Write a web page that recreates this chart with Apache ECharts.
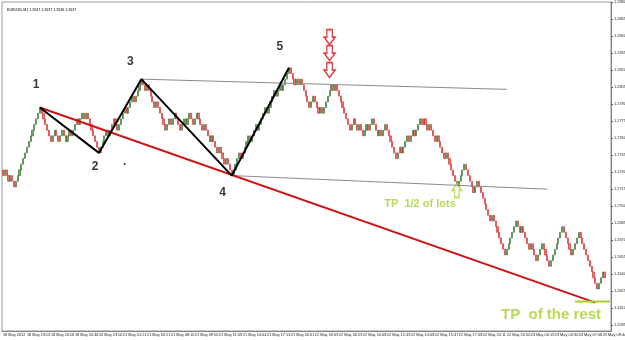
<!DOCTYPE html>
<html>
<head>
<meta charset="utf-8">
<script src="https://cdn.jsdelivr.net/npm/echarts@6/dist/echarts.min.js"></script>
<style>
  html, body { margin: 0; padding: 0; background: #fff; }
  #chart { width: 625px; height: 340px; }
</style>
</head>
<body>
<div id="chart"></div>
<script>
// EURUSD renko chart, swing labels 1-5 and TP notes

const titleText = 'EURUSD,M1 1.2637 1.2637 1.2636 1.2637'

const dateLabels = [
    '18 May 2012', '18 May 19:01', '18 May 20:06', '18 May 20:48', '20 May 23:00',
    '21 May 01:21', '21 May 03:21', '21 May 08:16', '21 May 09:56', '21 May 11:09',
    '21 May 14:04', '21 May 17:13', '21 May 20:01', '22 May 03:09', '22 May 06:29',
    '22 May 10:08', '22 May 12:49', '22 May 14:08', '22 May 15:47', '22 May 17:08',
    '22 May 20:11', '22 May 20:50', '23 May 00:19', '23 May 03:30', '23 May 07:08',
    '23 May 09:44'
]

const priceTicks = [
    1.2595, 1.2610, 1.2625, 1.2640, 1.2655, 1.2670, 1.2685, 1.2700, 1.2715, 1.2730,
    1.2745, 1.2760, 1.2775, 1.2790, 1.2805, 1.2820, 1.2835, 1.2850, 1.2865, 1.2880
]

// renko bricks: price of level 0, brick height, start level, runs of bricks (+ up / - down)
const brickBase = 1.2597
const brickSize = 0.0005
const startLevel = 27
const brickRuns = [
    -1, 1, -2, 1, -2,
    14,
    -6, 2, -2, 2, -2, 2, -1, 3, -1, 2, -1, 1, -7,
    4, -1, 3, -2, 4, -1, 3, -1, 4,
    -2, 1, -4, 1, -5, 2, -1, 2, -3, 2, -1, 2, -2, 2, -3, 1, -3, 1, -3, 1, -3, 1, -3,
    4, -1, 4, -1, 3, -1, 4, -1, 4, -1, 2, -1, 4,
    -3, 1, -1, 1, -5, 2, -3, 1, -1, 5, -1, 1, -8,
    2, -2, 1, -2, 2, -1, 2, -3, 1, -1, 2, -6, 2, -1, 3, -1, 2, -1, 3, -1, 1,
    -2, 1, -3, 1, -4, 1, -6, 4, -5, 2, -7, 1, -7,
    6, -2, 1, -4, 1, -3, 3, -4, 7, -5, 4, -10, 3, -1
]
const barSlots = 330
const lastPrice = 1.2637

// drawn lines, [bar, price]
const waveLine = [[20, 1.2787], [52, 1.2747], [75, 1.2812], [124, 1.2727], [155, 1.2822]]
const trendLine = [[20, 1.2787], [321, 1.2615]]
const upperLine = [[75, 1.2812], [273, 1.2803]]
const lowerLine = [[124, 1.2727], [295, 1.2715]]
const tpLine = [[310, 1.2616], [329, 1.2616]]

const waveNames = ['1', '2', '3', '4', '5', '.']
const wavePoints = [[18, 1.2807], [50, 1.2735], [69, 1.2827], [119, 1.2712], [150, 1.2841], [66, 1.2739]]
const sellArrows = [[177, 1.2849], [177, 1.2835], [177, 1.2820]]
const tpArrow = [[246, 1.2714]]
const tpNotes = ['TP  1/2 of lots', 'TP  of the rest']
const tpNotePoints = [[226, 1.2702], [297, 1.2604]]

// build bricks
let bricks = []
let level = startLevel
brickRuns.forEach(r => {
    let dir = r > 0 ? 1 : -1
    for (let i = 0; i < Math.abs(r); i++) {
        let o = brickBase + level * brickSize
        level += dir
        let c = brickBase + level * brickSize
        bricks.push([o, c, Math.min(o, c), Math.max(o, c)])
    }
})
let cats = []
for (let i = 0; i < barSlots; i++) cats.push(i)

const green = '#a4d22c'

let chart = echarts.init(document.getElementById('chart'))
let option = {
    animation: false,
    backgroundColor: '#fff',
    title: {
        text: titleText,
        left: 2, top: 3,
        textStyle: { fontSize: 3.6, fontWeight: 'normal', color: '#000', fontFamily: 'Liberation Sans' }
    },
    grid: {
        left: 2, right: 14, top: 2, bottom: 9,
        outerBoundsMode: 'none',
        containLabel: false,
        show: true, borderColor: '#9a9a9a', borderWidth: 1
    },
    xAxis: {
        type: 'category',
        data: cats,
        boundaryGap: true,
        axisLine: { lineStyle: { color: '#808080' } },
        axisTick: { interval: 12, length: 2, alignWithLabel: true, lineStyle: { color: '#606060' } },
        axisLabel: {
            interval: 12,
            showMinLabel: true,
            hideOverlap: false,
            margin: 2,
            align: 'left',
            fontSize: 3.9,
            color: '#222',
            fontFamily: 'Liberation Sans',
            formatter: (v, i) => dateLabels[i / 13] || ''
        },
        splitLine: { show: false }
    },
    yAxis: {
        type: 'value',
        position: 'right',
        min: 1.2590,
        max: 1.2880,
        scale: true,
        axisLine: { show: true, lineStyle: { color: '#808080' } },
        axisTick: { show: true, length: 2, inside: false, customValues: priceTicks, lineStyle: { color: '#606060' } },
        axisLabel: {
            customValues: priceTicks,
            margin: 3,
            fontSize: 3.9,
            color: '#222',
            fontFamily: 'Liberation Sans',
            formatter: v => v.toFixed(4)
        },
        splitLine: { show: false }
    },
    series: [{
        type: 'candlestick',
        data: bricks,
        barWidth: 1.6,
        itemStyle: {
            color: '#6aa55a', borderColor: '#2f6f2f',
            color0: '#f27070', borderColor0: '#d42020',
            borderWidth: 0.6
        },
        markLine: {
            silent: true,
            symbol: 'none',
            lineStyle: { opacity: 0 },
            label: {
                position: 'end', formatter: lastPrice.toFixed(4), distance: 1,
                backgroundColor: '#000', color: '#fff', fontSize: 3.9, padding: [1, 2],
                fontFamily: 'Liberation Sans'
            },
            data: [{ yAxis: lastPrice }]
        }
    }, {
        type: 'line', data: upperLine, symbol: 'none',
        lineStyle: { color: '#8a8a8a', width: 1 }
    }, {
        type: 'line', data: lowerLine, symbol: 'none',
        lineStyle: { color: '#8a8a8a', width: 1 }
    }, {
        type: 'line', data: trendLine, symbol: 'none',
        lineStyle: { color: '#cc1414', width: 2 }
    }, {
        type: 'line', data: waveLine, symbol: 'none',
        lineStyle: { color: '#000', width: 2 }
    }, {
        type: 'line', data: tpLine, symbol: 'none',
        lineStyle: { color: green, width: 2 }
    }, {
        type: 'scatter',
        data: wavePoints.map((p, i) => ({ value: p, name: waveNames[i] })),
        symbolSize: 0,
        label: {
            show: true, position: 'inside', formatter: p => p.name,
            fontSize: 12, fontWeight: 'bold', color: '#000', fontFamily: 'Liberation Sans'
        }
    }, {
        type: 'scatter',
        data: tpNotePoints.map((p, i) => ({ value: p, name: tpNotes[i] })),
        symbolSize: 0,
        label: {
            show: true, position: 'inside', formatter: p => p.name,
            fontWeight: 'bold', color: green, fontFamily: 'Liberation Sans',
            fontSize: 11
        },
        labelLayout: { hideOverlap: false }
    }, {
        type: 'scatter',
        data: sellArrows,
        symbol: 'path://M3,0 L9,0 L9,8 L12,8 L6,16 L0,8 L3,8 Z',
        symbolSize: [11, 15],
        itemStyle: { color: '#fff', borderColor: '#d01010', borderWidth: 1.5 }
    }, {
        type: 'scatter',
        data: tpArrow,
        symbol: 'path://M6,0 L12,8 L9,8 L9,16 L3,16 L3,8 L0,8 Z',
        symbolSize: [9, 14],
        itemStyle: { color: '#fff', borderColor: green, borderWidth: 1.5 }
    }]
}
// second TP note is written larger
option.series[7].data[1].label = { fontSize: 15 }
chart.setOption(option)
</script>
</body>
</html>
